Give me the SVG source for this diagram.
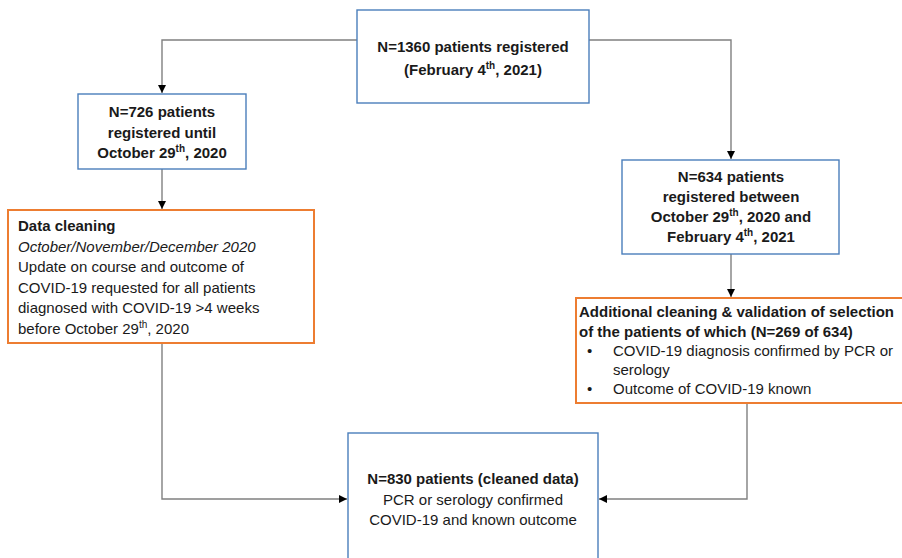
<svg xmlns="http://www.w3.org/2000/svg" width="902" height="558" viewBox="0 0 902 558">
<style>
text{font-family:"Liberation Sans",Arial,sans-serif;font-size:15px;fill:#1a1a1a}
.b{font-weight:bold}
.i{font-style:italic}
.c{text-anchor:middle}
.sup{font-size:10px}
.blue{fill:#fff;stroke:#4a7ebb;stroke-width:1.4}
.orange{fill:#fff;stroke:#ed7d31;stroke-width:2}
.con{fill:none;stroke:#808080;stroke-width:1.4}
</style>
<defs>
<marker id="arr" viewBox="0 0 10 10" refX="10" refY="5" markerWidth="8" markerHeight="8" markerUnits="userSpaceOnUse" orient="auto">
<path d="M0,0 L10,5 L0,10 z" fill="#000"/>
</marker>
</defs>
<rect width="902" height="558" fill="#fff"/>
<g id="connectors">
<path class="con" d="M357,40 H162 V93" marker-end="url(#arr)"/>
<path class="con" d="M589,40 H731 V159" marker-end="url(#arr)"/>
<path class="con" d="M162,169 V209" marker-end="url(#arr)"/>
<path class="con" d="M731,254 V297" marker-end="url(#arr)"/>
<path class="con" d="M162,343 V499 H347" marker-end="url(#arr)"/>
<path class="con" d="M747,403 V499 H599" marker-end="url(#arr)"/>
</g>
<g id="n1360">
<rect class="blue" x="357" y="10" width="232" height="93"/>
<text class="b c" x="473" y="52">N=1360 patients registered</text>
<text class="b c" x="473" y="75">(February 4<tspan class="sup" dy="-6">th</tspan><tspan dy="6">, 2021)</tspan></text>
</g>
<g id="n726">
<rect class="blue" x="78" y="94" width="168" height="75"/>
<text class="b c" x="162" y="117">N=726 patients</text>
<text class="b c" x="162" y="137.5">registered until</text>
<text class="b c" x="162" y="158">October 29<tspan class="sup" dy="-6">th</tspan><tspan dy="6">, 2020</tspan></text>
</g>
<g id="cleaning">
<rect class="orange" x="8" y="210" width="306" height="133"/>
<text class="b" x="18" y="231">Data cleaning</text>
<text class="i" x="18" y="251.5">October/November/December 2020</text>
<text x="18" y="272">Update on course and outcome of</text>
<text x="18" y="292.5">COVID-19 requested for all patients</text>
<text x="18" y="313">diagnosed with COVID-19 &gt;4 weeks</text>
<text x="18" y="333.5">before October 29<tspan class="sup" dy="-6">th</tspan><tspan dy="6">, 2020</tspan></text>
</g>
<g id="n634">
<rect class="blue" x="622" y="160" width="217" height="94"/>
<text class="b c" x="731" y="182">N=634 patients</text>
<text class="b c" x="731" y="202">registered between</text>
<text class="b c" x="731" y="222">October 29<tspan class="sup" dy="-6">th</tspan><tspan dy="6">, 2020 and</tspan></text>
<text class="b c" x="731" y="242">February 4<tspan class="sup" dy="-6">th</tspan><tspan dy="6">, 2021</tspan></text>
</g>
<g id="validation">
<rect class="orange" x="576" y="298" width="340" height="105"/>
<text class="b" x="579" y="317">Additional cleaning &amp; validation of selection</text>
<text class="b" x="579" y="336.5">of the patients of which (N=269 of 634)</text>
<text x="587" y="356">•</text>
<text x="613" y="356">COVID-19 diagnosis confirmed by PCR or</text>
<text x="613" y="375">serology</text>
<text x="587" y="394">•</text>
<text x="613" y="394">Outcome of COVID-19 known</text>
</g>
<g id="n830">
<rect class="blue" x="348" y="433" width="250" height="140"/>
<text class="b c" x="473" y="484">N=830 patients (cleaned data)</text>
<text class="c" x="473" y="505">PCR or serology confirmed</text>
<text class="c" x="473" y="525">COVID-19 and known outcome</text>
</g>
</svg>
